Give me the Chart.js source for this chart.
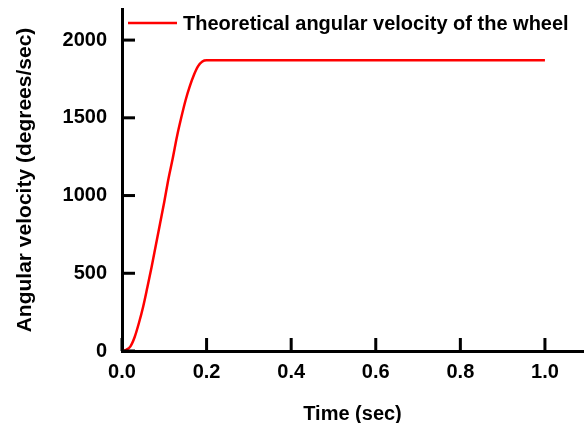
<!DOCTYPE html>
<html>
<head>
<meta charset="utf-8">
<script src="https://cdn.jsdelivr.net/npm/chart.js@4/dist/chart.umd.min.js"></script>
<style>
  html, body { margin: 0; padding: 0; background: #fff; }
  #wrap { width: 587px; height: 423px; }
</style>
</head>
<body>
<div id="wrap"><canvas id="wheelChart" width="587" height="423"></canvas></div>
<script>
// values
const times = [0, 0.01, 0.02, 0.03, 0.04, 0.05, 0.06, 0.07, 0.08, 0.09, 0.10,
  0.11, 0.12, 0.13, 0.14, 0.15, 0.16, 0.17, 0.18, 0.19, 0.20, 1.0];
const velocity = [0, 8, 30, 90, 180, 285, 410, 540, 680, 820, 960,
  1110, 1240, 1380, 1500, 1610, 1700, 1775, 1832, 1862, 1870, 1870];
const xTicks = [0, 0.2, 0.4, 0.6, 0.8, 1.0];
const yTicks = [0, 500, 1000, 1500, 2000];
const seriesLabel = 'Theoretical angular velocity of the wheel';

const FONT = "'Liberation Sans', Arial, sans-serif";

// tick marks drawn inward and the legend inside the plot, like the original
const plotExtras = {
  id: 'plotExtras',
  afterDraw(chart) {
    const c = chart.ctx;
    const xs = chart.scales.x;
    const ys = chart.scales.y;
    const area = chart.chartArea;
    c.save();
    c.fillStyle = '#000';
    xTicks.forEach(v => {
      const px = xs.getPixelForValue(v);
      c.fillRect(px - 1.5, area.bottom - 13, 3, 13);
    });
    yTicks.forEach(v => {
      const py = ys.getPixelForValue(v);
      c.fillRect(area.left, py - 1.5, 13, 3);
    });

    const ds = chart.data.datasets[0];
    const ly = area.top + 14;
    c.fillStyle = ds.borderColor;
    c.fillRect(area.left + 6, ly - 1.25, 49, 2.5);
    c.fillStyle = '#000';
    c.font = 'bold 20px ' + FONT;
    c.textBaseline = 'middle';
    c.textAlign = 'left';
    c.fillText(ds.label, area.left + 61, ly + 1);
    c.restore();
  }
};

const ctx = document.getElementById('wheelChart').getContext('2d');
new Chart(ctx, {
  type: 'line',
  data: {
    datasets: [{
      label: seriesLabel,
      data: times.map((t, i) => ({ x: t, y: velocity[i] })),
      borderColor: '#ff0000',
      backgroundColor: '#ff0000',
      borderWidth: 2.5,
      pointRadius: 0,
      cubicInterpolationMode: 'monotone'
    }]
  },
  options: {
    responsive: false,
    animation: false,
    layout: { padding: { top: 9, right: 4, left: 10, bottom: 0 } },
    plugins: {
      tooltip: { enabled: false },
      legend: { display: false }
    },
    scales: {
      x: {
        type: 'linear',
        min: 0,
        max: 1.09,
        afterBuildTicks: s => { s.ticks = xTicks.map(v => ({ value: v })); },
        afterFit: s => { s.height = 72; },
        grid: { display: false, drawTicks: false },
        border: { display: true, color: '#000', width: 3 },
        ticks: {
          padding: 9,
          color: '#000',
          font: { family: FONT, size: 20, weight: 'bold' },
          callback: v => v.toFixed(1)
        },
        title: {
          display: true,
          text: 'Time (sec)',
          color: '#000',
          padding: { top: 4, bottom: -3 },
          font: { family: FONT, size: 20, weight: 'bold' }
        }
      },
      y: {
        min: 0,
        max: 2200,
        afterBuildTicks: s => { s.ticks = yTicks.map(v => ({ value: v })); },
        afterFit: s => { s.width = 112; s.paddingTop = 0; s.paddingBottom = 0; },
        grid: { display: false, drawTicks: false },
        border: { display: true, color: '#000', width: 3 },
        ticks: {
          padding: 15,
          color: '#000',
          font: { family: FONT, size: 20, weight: 'bold' },
          callback: v => String(v)
        },
        title: {
          display: true,
          text: 'Angular velocity (degrees/sec)',
          color: '#000',
          padding: { top: 3, bottom: 4 },
          font: { family: FONT, size: 21, weight: 'bold' }
        }
      }
    }
  },
  plugins: [plotExtras]
});
</script>
</body>
</html>
